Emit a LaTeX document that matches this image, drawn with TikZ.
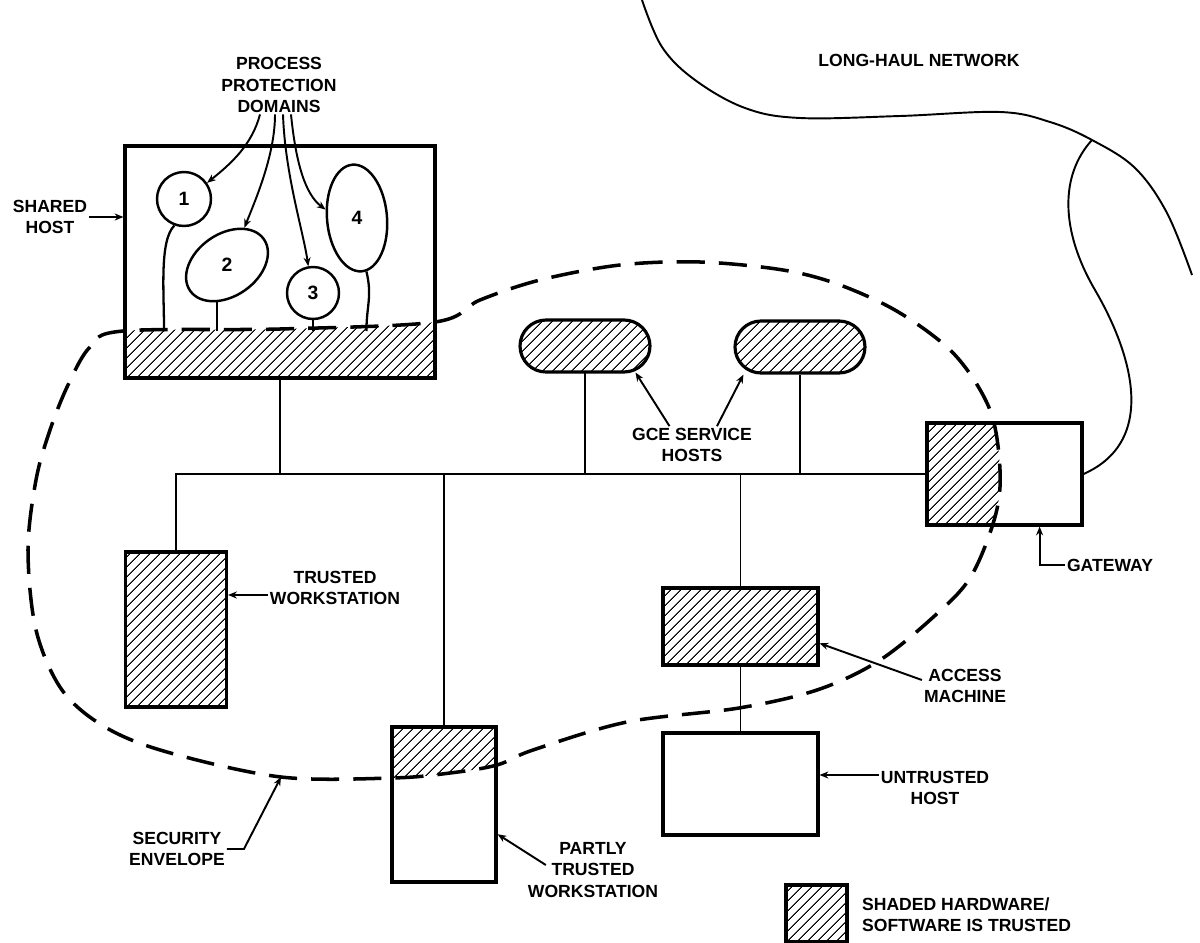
\documentclass[tikz,border=0pt]{standalone}
\usepackage{fontspec}
\setsansfont{Liberation Sans}
\usetikzlibrary{shapes.geometric,patterns.meta,arrows.meta}

% 安全包络线
\newcommand{\envpath}{plot[smooth cycle, tension=0.55] coordinates {(123,331) (90,347) (68,385) (50,430) (36,480) (28,550) (36,630) (62,690) (105,727) (167,752) (281,777) (392,778) (450,773) (497,765) (533,750) (627,722) (739,708) (817,690) (877,662) (930,620) (970,578) (995,517) (1000,470) (990,410) (955,355) (900,313) (840,285) (783,270) (700,262) (620,265) (540,280) (480,300) (435,322) (280,329)}}

\begin{document}
\begin{tikzpicture}[x=0.02cm, y=-0.02cm,
    lbl/.style={font=\sffamily\bfseries\fontsize{10}{12}\selectfont, align=center, inner sep=1pt},
    box/.style={draw, line width=1.8pt, inner sep=0pt},
    hatch/.style={pattern={Lines[angle=45,distance=4pt,line width=0.6pt]}},
    wire/.style={line width=0.9pt},
    arr/.style={->, >={Stealth[length=5pt,width=4pt]}, line width=1.1pt},
    dom/.style={draw, line width=1.4pt, inner sep=0pt, font=\sffamily\bfseries\fontsize{11}{13}\selectfont},
    env/.style={line width=2pt, dash pattern=on 16pt off 8pt},
    net/.style={line width=1.1pt}]
    \useasboundingbox (0,0) rectangle (1200,943);
    % 共享主机
    \node[box, minimum width=6.2cm, minimum height=4.64cm] (shared) at (280,262) {};
    \node[lbl] (shl) at (50,217) {SHARED\\HOST};
    \draw[arr] (shl.east) -- (shl.east -| shared.west);
    \coordinate (base) at (0,331);
    % 进程保护域
    \node[dom, circle, minimum size=1.08cm] (d1) at (184,199) {1};
    \node[dom, ellipse, minimum width=1.8cm, minimum height=1.24cm, rotate=35] (d2) at (227,265) {\rotatebox{-35}{2}};
    \node[dom, circle, minimum size=1.04cm] (d3) at (313,293) {3};
    \node[dom, ellipse, minimum width=1.2cm, minimum height=2.14cm, rotate=5] (d4) at (357,218) {\rotatebox{-5}{4}};
    \draw[line width=1.3pt] (d1.250) .. controls +(-15,15) and +(0,-40) .. (d1.south west |- base);
    \draw[line width=1.3pt] (d2.220) -- (d2.220 |- base);
    \draw[line width=1.3pt] (d3.south) -- (d3.south |- base);
    \draw[line width=1.3pt] (d4.275) .. controls +(6,25) and +(0,-25) .. (d4.275 |- base);
    \node[lbl] (ppd) at (279,85) {PROCESS\\PROTECTION\\DOMAINS};
    \draw[arr] ([xshift=-0.38cm]ppd.south) .. controls +(-8,30) and +(25,-20) .. (d1.35);
    \draw[arr] ([xshift=-0.08cm]ppd.south) .. controls +(0,40) and +(12,-30) .. (d2.30);
    \draw[arr] ([xshift=0.08cm]ppd.south) .. controls +(2,60) and +(-5,-35) .. (d3.100);
    \draw[arr] ([xshift=0.24cm]ppd.south) .. controls +(5,50) and +(-20,-15) .. (d4.160);
    % GCE 服务主机
    \node[box, hatch, rounded corners=0.52cm, minimum width=2.6cm, minimum height=1.04cm] (gce1) at (585,346) {};
    \node[box, hatch, rounded corners=0.52cm, minimum width=2.6cm, minimum height=1.04cm] (gce2) at (800,347) {};
    \node[lbl] (gcel) at (692,445) {GCE SERVICE\\HOSTS};
    \draw[arr] ([xshift=-0.45cm]gcel.north) -- ([xshift=-0.3cm]gce1.south east);
    \draw[arr] ([xshift=0.5cm]gcel.north) -- ([xshift=0.2cm]gce2.south west);
    % 网关与长途网络
    \node[box, minimum width=3.1cm, minimum height=2.04cm] (gw) at (1004.5,474) {};
    \node[lbl] (gwl) at (1110,565) {GATEWAY};
    \draw[arr] (gwl.west) -| ([xshift=-0.88cm]gw.south east);
    \node[lbl] (lhn) at (919,60) {LONG-HAUL NETWORK};
    \coordinate (lhj) at (1092,140);
    \draw[net] plot[smooth, tension=0.6] coordinates {(642,0) (662,47) (695,80) (745,108) (800,118) (900,116) (1000,112) (1050,122) (1092,140) (1135,168) (1167,213) (1192,275)};
    \draw[net] (lhj) .. controls (1060,175) and (1060,230) .. (1095,290) .. controls (1130,350) and (1160,440) .. (gw.east);
    % 可信工作站
    \node[box, hatch, minimum width=2.02cm, minimum height=3.1cm] (tw) at (176,629.5) {};
    \node[lbl] (twl) at (335,588) {TRUSTED\\WORKSTATION};
    \coordinate (twa) at ([yshift=-0.14cm]twl.west);
    \draw[arr] (twa) -- (twa -| tw.east);
    % 总线
    \draw[wire] (tw.north) |- (gw.west);
    \draw[wire] (shared.south) -- (shared.south |- gw.west);
    \draw[wire] (gce1.south) -- (gce1.south |- gw.west);
    \draw[wire] (gce2.south) -- (gce2.south |- gw.west);
    % 部分可信工作站
    \node[box, minimum width=2.08cm, minimum height=3.1cm] (pt) at (444,804.5) {};
    \draw[wire] (pt.north) -- (pt.north |- gw.west);
    \node[lbl] (ptl) at (593,870) {PARTLY\\TRUSTED\\WORKSTATION};
    \draw[arr] ([shift={(0.4cm,0.1cm)}]ptl.west) -- (pt.-29);
    % 访问机与不可信主机
    \node[box, hatch, minimum width=3.1cm, minimum height=1.54cm] (am) at (740.5,626.5) {};
    \draw[wire] (am.north) -- (am.north |- gw.west);
    \node[box, minimum width=3.1cm, minimum height=2.04cm] (uh) at (740.5,784) {};
    \draw[wire] (am.south) -- (uh.north);
    \node[lbl] (aml) at (965,686) {ACCESS\\MACHINE};
    \draw[arr] ([yshift=0.12cm]aml.west) -- (am.-12);
    \node[lbl] (uhl) at (935,787.5) {UNTRUSTED\\HOST};
    \coordinate (uha) at ([yshift=0.25cm]uhl.west);
    \draw[arr] (uha) -- (uha -| uh.east);
    % 包络内的阴影部分
    \begin{scope}
        \clip \envpath;
        \fill[hatch] (shared.south west) rectangle (shared.north east);
        \fill[hatch] (gw.south west) rectangle (gw.north east);
        \fill[hatch] (pt.south west) rectangle (pt.north east);
    \end{scope}
    \draw[env] \envpath;
    \node[lbl] (sel) at (177,849) {SECURITY\\ENVELOPE};
    \coordinate (envp) at (281,777);
    \draw[arr] (sel.east) -- ++(17,0) -- (envp);
    % 图例
    \node[box, hatch, minimum width=1.22cm, minimum height=1.14cm] (lg) at (816.5,913.5) {};
    \node[lbl, align=left, anchor=west] (lgl) at (860,915) {SHADED HARDWARE/\\SOFTWARE IS TRUSTED};
\end{tikzpicture}
\end{document}
